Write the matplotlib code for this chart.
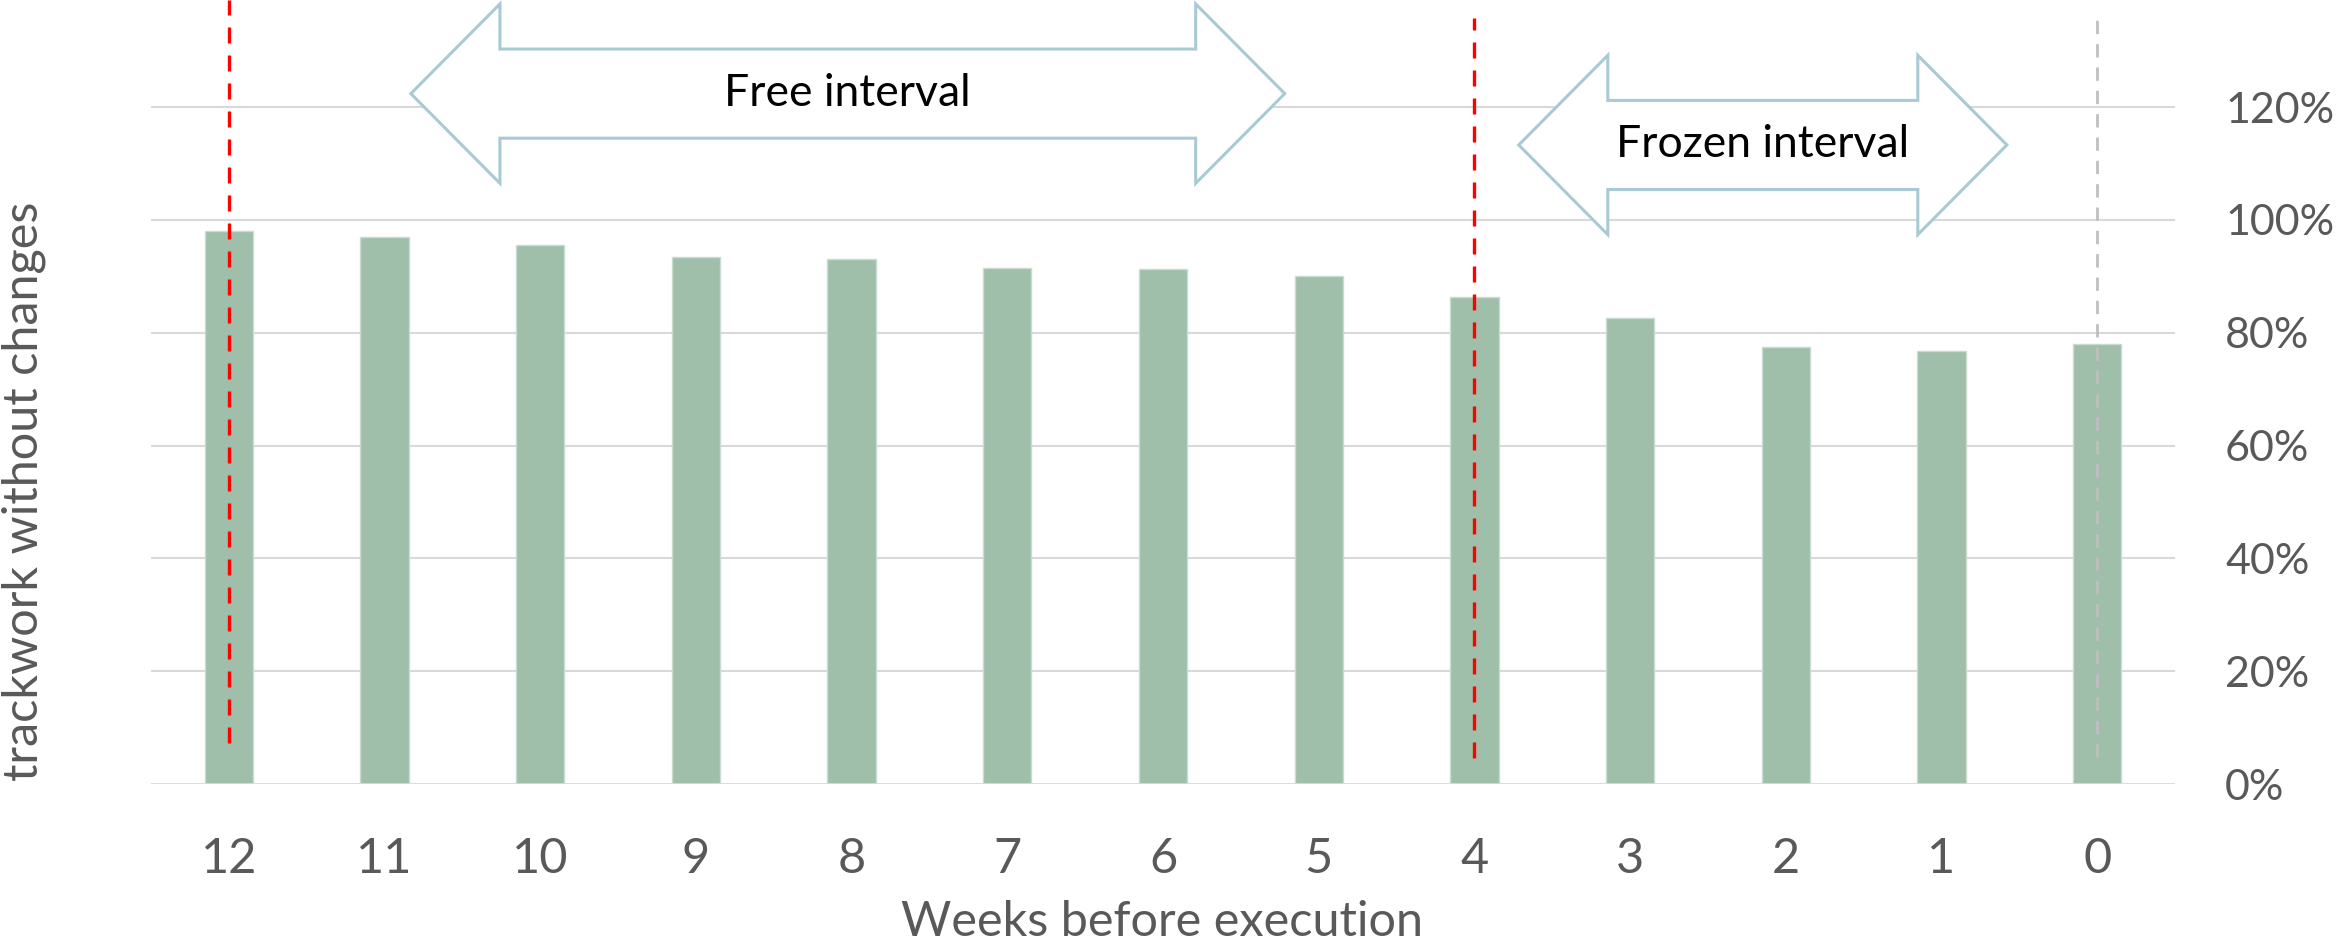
import matplotlib
matplotlib.use("Agg")
from matplotlib import pyplot as plt
from matplotlib.patches import Polygon
from matplotlib.ticker import PercentFormatter

plt.rcParams["font.family"] = ["Lato", "DejaVu Sans"]

weeks = ["12", "11", "10", "9", "8", "7", "6", "5", "4", "3", "2", "1", "0"]
share_unchanged = [0.980, 0.970, 0.956, 0.934, 0.931, 0.914, 0.913, 0.900,
                   0.864, 0.827, 0.775, 0.767, 0.780]

bar_color = "#9FBFAB"
grid_color = "#D9D9D9"
text_color = "#595959"
arrow_color = "#A9CAD5"

fig = plt.figure(figsize=(23.43, 9.43), dpi=100, facecolor="white")
ax = fig.add_axes([151 / 2343, 159 / 943, 2024 / 2343, 784 / 943])

x = list(range(len(weeks)))
ax.bar(x, share_unchanged, width=0.31, color=bar_color,
       edgecolor="#C8DCCF", linewidth=1, zorder=2)

ax.set_xlim(-0.5, len(weeks) - 0.5)
ax.set_ylim(0, 1.39)
ax.set_yticks([0, 0.2, 0.4, 0.6, 0.8, 1.0, 1.2])
ax.yaxis.set_major_formatter(PercentFormatter(1.0, decimals=0))
ax.yaxis.tick_right()
ax.set_xticks(x)
ax.set_xticklabels(weeks)
ax.tick_params(axis="both", length=0, labelcolor=text_color)
ax.tick_params(axis="x", labelsize=35, pad=38)
ax.tick_params(axis="y", labelsize=31, pad=36)
for lbl in ax.get_yticklabels():
    lbl.set_horizontalalignment("left")

for y in [0.2, 0.4, 0.6, 0.8, 1.0, 1.2]:
    ax.axhline(y, color=grid_color, linewidth=1.5, zorder=1)
ax.axhline(0, color=grid_color, linewidth=2, zorder=3)
for side in ["top", "bottom", "left", "right"]:
    ax.spines[side].set_visible(False)

# boundaries: start of plan, start of frozen period, execution week
dash = (0, (4.8, 3.6))
ax.vlines(weeks.index("12"), 0.073, 1.39, colors="#FF0000", linewidth=2.4,
          linestyles=dash, zorder=4, clip_on=False)
ax.vlines(weeks.index("4"), 0.046, 1.358, colors="#FF0000", linewidth=2.4,
          linestyles=dash, zorder=4)
ax.vlines(weeks.index("0"), 0.048, 1.355, colors="#BFBFBF", linewidth=2.0,
          linestyles=dash, zorder=4)


def double_arrow(x0, x1, head, yc, head_h, shaft_h, label):
    b0, b1 = x0 + head, x1 - head
    pts = [
        (x0, yc), (b0, yc + head_h), (b0, yc + shaft_h), (b1, yc + shaft_h),
        (b1, yc + head_h), (x1, yc), (b1, yc - head_h), (b1, yc - shaft_h),
        (b0, yc - shaft_h), (b0, yc - head_h),
    ]
    ax.add_patch(Polygon(pts, closed=True, facecolor="white",
                         edgecolor=arrow_color, linewidth=2.2, zorder=5,
                         clip_on=False))
    ax.text((x0 + x1) / 2, yc, label, ha="center", va="center",
            fontsize=32, color="black", zorder=6)


double_arrow(1.169, 6.782, 0.572, 1.224, 0.159, 0.079, "Free interval")
double_arrow(8.285, 11.42, 0.572, 1.133, 0.159, 0.079, "Frozen interval")

fig.text(1162 / 2343, 1 - 922 / 943, "Weeks before execution", ha="center",
         va="center", fontsize=35, color=text_color)
fig.text(24 / 2343, 1 - 491 / 943, "trackwork without changes", ha="center",
         va="center", rotation=90, fontsize=35, color=text_color)

fig.savefig("out.png", dpi=100, facecolor="white")
